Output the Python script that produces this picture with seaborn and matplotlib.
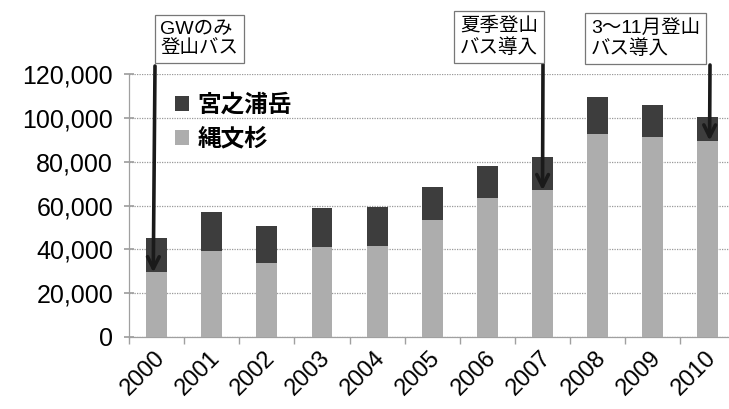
import numpy as np
import pandas as pd
import matplotlib
matplotlib.use("Agg")
import matplotlib.pyplot as plt
from matplotlib.patches import Patch
from matplotlib.ticker import FuncFormatter, FixedLocator
from matplotlib.transforms import ScaledTranslation
import seaborn as sns

# Climbers per year on the two Yakushima trails
years = ["2000", "2001", "2002", "2003", "2004", "2005",
         "2006", "2007", "2008", "2009", "2010"]
jomon = [29400, 39400, 33700, 40900, 41600, 53500,
         63300, 67000, 92700, 91200, 89700]
miyanoura = [15600, 17500, 17000, 18000, 17600, 15100,
             14600, 15100, 16800, 15000, 10800]
series_names = ["宮之浦岳", "縄文杉"]
yticks = [0, 20000, 40000, 60000, 80000, 100000, 120000]

# Bus service milestones
events = ["GWのみ\n登山バス", "夏季登山\nバス導入", "3〜11月登山\nバス導入"]
event_years = ["2000", "2007", "2010"]

DARK = "#3d3d3d"
LIGHT = "#adadad"

sns.set_theme(style="white")
plt.rcParams["font.family"] = ["Liberation Sans", "Noto Sans CJK JP", "DejaVu Sans"]
plt.rcParams["text.color"] = "black"
plt.rcParams["xtick.color"] = "black"
plt.rcParams["ytick.color"] = "black"

df = pd.DataFrame({"year": years, "jomon": jomon, "miyanoura": miyanoura})
df["total"] = df["jomon"] + df["miyanoura"]

W, H = 729, 409
fig = plt.figure(figsize=(W / 100, H / 100), dpi=100)
ax = fig.add_axes([129 / W, 1 - 336.7 / H, 606.5 / W, (336.7 - 74.4) / H])

sns.barplot(data=df, x="year", y="total", color=DARK, width=0.38,
            saturation=1, linewidth=0, edgecolor="none", ax=ax, zorder=2)
sns.barplot(data=df, x="year", y="jomon", color=LIGHT, width=0.38,
            saturation=1, linewidth=0, edgecolor="none", ax=ax, zorder=3)

ax.set_xlim(-0.5, len(years) - 0.5)
ax.set_ylim(0, 120000)
ax.set_yticks(yticks)
ax.yaxis.set_major_formatter(FuncFormatter(lambda v, p: f"{int(v):,}"))
ax.set_xlabel("")
ax.set_ylabel("")

ax.grid(axis="y", linestyle=(0, (1, 1)), color="#999999", linewidth=0.9, zorder=0)
ax.grid(axis="x", visible=False)
for s in ["top", "right"]:
    ax.spines[s].set_visible(False)
for s in ["left", "bottom"]:
    ax.spines[s].set_color("#a0a0a0")
    ax.spines[s].set_linewidth(0.9)

ax.tick_params(axis="y", labelsize=18, length=7, direction="inout",
               color="#a0a0a0", left=True, pad=8, labelcolor="black")
ax.tick_params(axis="x", which="major", length=0, labelsize=17, pad=13,
               labelcolor="black")
ax.xaxis.set_minor_locator(FixedLocator(np.arange(-0.5, len(years), 1.0)))
ax.tick_params(axis="x", which="minor", length=5, color="#a0a0a0", bottom=True)
shift = ScaledTranslation(5 / 100, 0, fig.dpi_scale_trans)
for lab in ax.get_xticklabels():
    lab.set_rotation(45)
    lab.set_ha("right")
    lab.set_va("center")
    lab.set_rotation_mode("anchor")
    lab.set_transform(lab.get_transform() + shift)

# Legend: 宮之浦岳 above 縄文杉
handles = [Patch(facecolor=DARK, edgecolor="none"),
           Patch(facecolor=LIGHT, edgecolor="none")]
fig.legend(handles, series_names, loc="upper left",
           bbox_to_anchor=(175 / W, 1 - 94 / H), frameon=False,
           prop={"size": 17, "weight": "bold"},
           handlelength=0.6, handleheight=0.6, handletextpad=0.35,
           labelspacing=0.45, borderpad=0, borderaxespad=0)

# Milestone callouts: boxed note with a downward arrow onto the 縄文杉 segment
box_centers = [(199.5, 39), (499, 37), (645.5, 38.5)]
arrow_starts = [(155, 66), (543, 64), (710, 65)]
arrow_dx = [-0.06, 0.0, 0.03]
for text, yr, (cx, cy), (sx, sy), dx in zip(events, event_years, box_centers,
                                             arrow_starts, arrow_dx):
    i = years.index(yr)
    fig.text(cx / W, 1 - cy / H, text, ha="center", va="center",
             multialignment="left", fontsize=14, linespacing=1.2,
             bbox=dict(boxstyle="square,pad=0.3", facecolor="white",
                       edgecolor="#777777", linewidth=0.9))
    ax.annotate("", xy=(i + dx, jomon[i]), xycoords="data",
                xytext=(sx / W, 1 - sy / H), textcoords="figure fraction",
                arrowprops=dict(arrowstyle="->,head_length=0.7,head_width=0.35",
                                color="#1a1a1a", lw=2.6, shrinkA=0, shrinkB=0),
                zorder=5, annotation_clip=False)

fig.savefig("out.png", dpi=100)
